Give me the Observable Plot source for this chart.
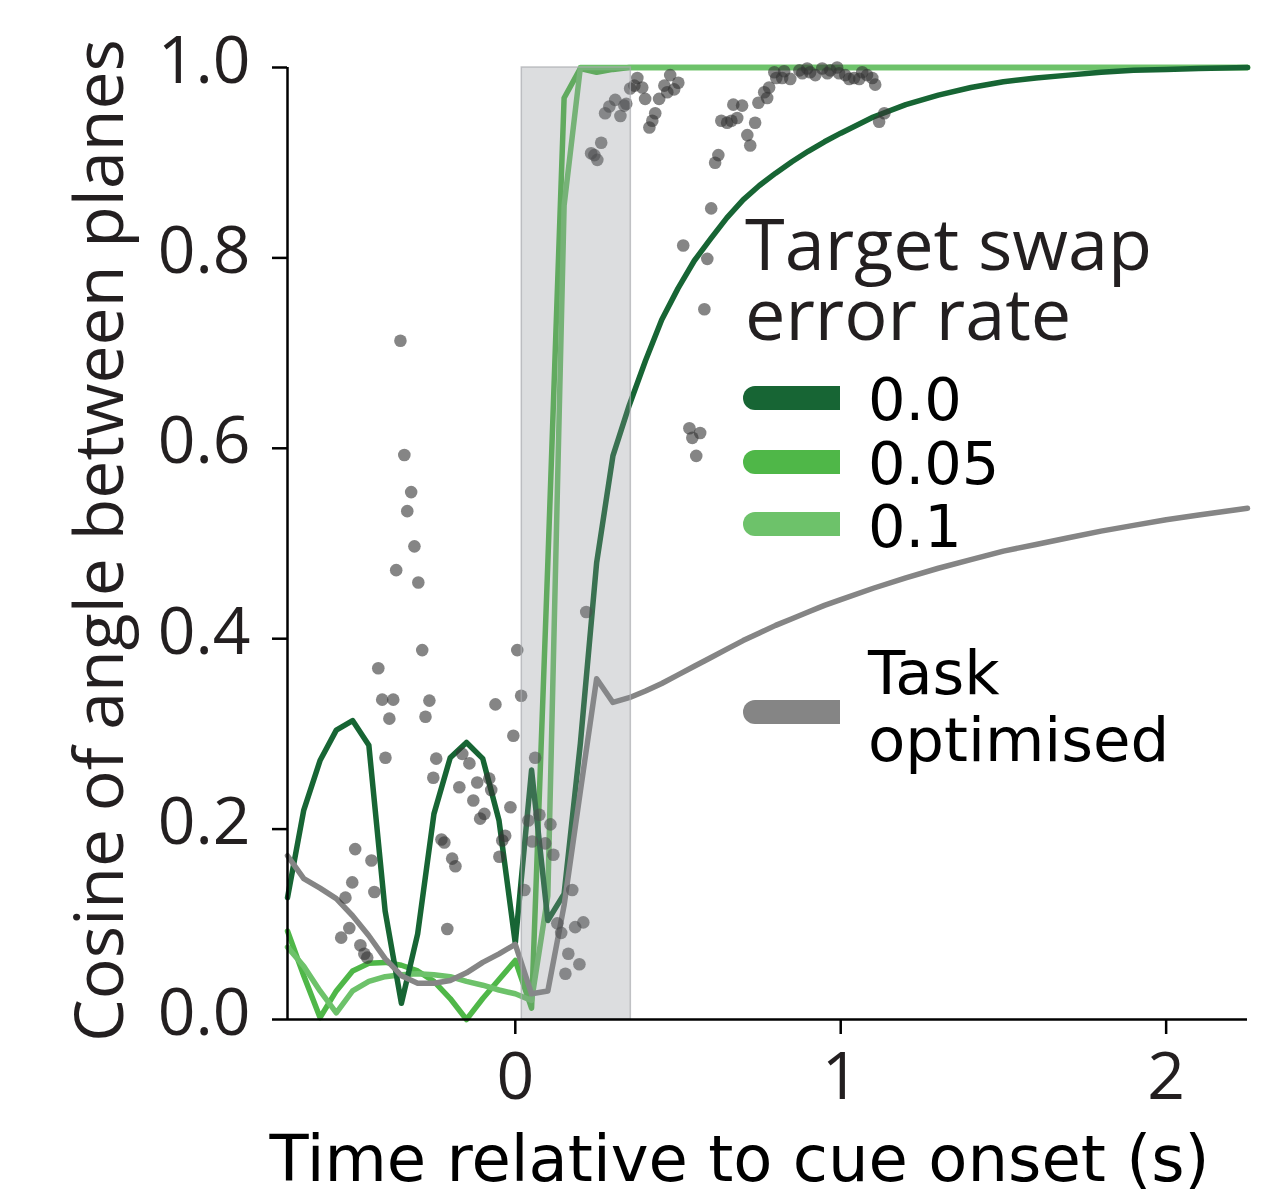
<!DOCTYPE html>
<html>
<head>
<meta charset="utf-8">
<script src="https://cdn.jsdelivr.net/npm/d3@7"></script>
<script src="https://cdn.jsdelivr.net/npm/@observablehq/plot@0.6"></script>
<style>
  html, body { margin: 0; padding: 0; background: #fff; }
  #wrap { position: relative; width: 1282px; height: 1194px; }
  #wrap svg { position: absolute; left: 0; top: 0; }
  .lg { position: absolute; white-space: nowrap; }
  .title { font-family: "Open Sans", sans-serif; font-size: 72px; line-height: 60px; color: #231f20; }
  .num { font-family: "DejaVu Sans", sans-serif; font-size: 59px; line-height: 56px; color: #000; }
  .task { font-family: "DejaVu Sans", sans-serif; font-size: 61px; line-height: 58px; color: #000; }
  .sw { position: absolute; width: 97px; height: 24px; border-radius: 12px 0 0 12px; }
</style>
</head>
<body>
<div id="wrap"></div>
<script>
// ---- Data ----
const xTicks = [0, 1, 2];
const yTicks = [0, 0.2, 0.4, 0.6, 0.8, 1.0];
const cueWindow = [{start: 0.02, end: 0.355, bottom: 0, top: 1}];

const seriesNames = ["0.0", "0.05", "0.1", "Task", "optimised"];
const seriesColors = ["#176534", "#4fb748", "#6dc26a", "#858585"];

const darkT = [-0.70,-0.65,-0.60,-0.55,-0.50,-0.45,-0.40,-0.35,-0.30,-0.25,-0.20,-0.15,-0.10,-0.05,0.00,0.05,0.10,0.15,0.20,0.25,0.30,0.35,0.40,0.45,0.50,0.55,0.60,0.65,0.70,0.75,0.80,0.85,0.90,0.95,1.00,1.10,1.20,1.30,1.40,1.50,1.60,1.70,1.80,1.90,2.00,2.10,2.25];
const darkY = [0.128,0.220,0.272,0.304,0.314,0.288,0.114,0.017,0.090,0.216,0.275,0.291,0.274,0.209,0.080,0.262,0.104,0.132,0.290,0.480,0.592,0.645,0.692,0.735,0.768,0.797,0.820,0.842,0.861,0.876,0.889,0.901,0.912,0.922,0.931,0.948,0.961,0.971,0.979,0.985,0.989,0.992,0.995,0.997,0.998,0.999,1.000];

const midT = [-0.70,-0.65,-0.60,-0.55,-0.50,-0.45,-0.40,-0.35,-0.30,-0.25,-0.20,-0.15,-0.10,-0.05,0.00,0.05,0.10,0.15,0.20,0.25,0.30,0.35,2.25];
const midY = [0.093,0.046,0.002,0.030,0.051,0.059,0.060,0.057,0.051,0.040,0.022,0.000,0.022,0.042,0.062,0.012,0.480,0.968,0.999,0.995,0.998,1.000,1.000];

const lightT = [-0.70,-0.65,-0.60,-0.55,-0.50,-0.45,-0.40,-0.35,-0.30,-0.25,-0.20,-0.15,-0.10,-0.05,0.00,0.05,0.10,0.15,0.20,0.25,0.30,0.35,2.25];
const lightY = [0.076,0.056,0.030,0.007,0.030,0.040,0.045,0.047,0.048,0.047,0.045,0.040,0.036,0.031,0.027,0.020,0.130,0.855,1.000,1.000,1.000,1.000,1.000];

const grayT = darkT;
const grayY = [0.172,0.148,0.138,0.127,0.109,0.088,0.064,0.046,0.038,0.038,0.041,0.049,0.060,0.069,0.079,0.027,0.030,0.120,0.240,0.358,0.333,0.338,0.345,0.353,0.362,0.371,0.380,0.389,0.398,0.406,0.414,0.421,0.428,0.435,0.441,0.453,0.464,0.474,0.483,0.492,0.499,0.506,0.513,0.519,0.525,0.530,0.537];

const scatterT = [-0.353,-0.341,-0.320,-0.332,-0.310,-0.366,-0.298,-0.286,-0.421,-0.409,-0.375,-0.264,-0.387,-0.276,-0.399,-0.243,-0.252,-0.163,-0.141,-0.117,-0.172,-0.129,-0.080,-0.074,-0.095,-0.108,-0.061,0.006,0.018,-0.006,-0.015,0.061,0.040,0.074,0.108,0.052,0.092,0.117,-0.031,-0.040,-0.049,-0.492,-0.442,-0.501,-0.433,-0.522,-0.510,-0.535,-0.476,-0.464,-0.455,-0.209,-0.227,-0.218,-0.194,-0.184,0.028,0.175,0.129,0.141,0.184,0.209,0.163,0.197,0.154,0.218,
  0.516,0.602,0.590,0.581,0.535,0.568,0.544,0.556,
  0.233,0.252,0.243,0.264,0.276,0.289,0.307,0.323,0.335,0.341,0.353,0.366,0.375,0.390,0.399,0.412,0.421,0.430,0.442,0.458,0.467,0.476,0.488,0.501,
  0.614,0.624,0.633,0.651,0.664,0.670,0.697,0.682,0.737,0.713,0.722,0.747,0.765,0.774,0.780,0.796,0.802,0.826,0.820,0.845,0.873,0.882,0.897,0.906,0.922,0.943,0.959,0.968,0.989,0.995,1.014,1.026,1.041,1.057,1.066,1.081,1.097,1.106,1.134,1.118];
const scatterY = [0.713,0.593,0.554,0.534,0.497,0.472,0.459,0.388,0.369,0.336,0.336,0.335,0.316,0.318,0.275,0.274,0.254,0.279,0.269,0.249,0.244,0.230,0.253,0.241,0.216,0.211,0.331,0.388,0.340,0.298,0.223,0.275,0.209,0.215,0.205,0.187,0.185,0.173,0.193,0.188,0.171,0.179,0.167,0.144,0.134,0.128,0.096,0.086,0.078,0.069,0.065,0.095,0.189,0.186,0.169,0.161,0.136,0.136,0.101,0.091,0.097,0.102,0.069,0.058,0.048,0.428,
  0.813,0.852,0.799,0.746,0.621,0.616,0.611,0.592,
  0.910,0.903,0.908,0.921,0.952,0.959,0.966,0.949,0.960,0.962,0.978,0.981,0.989,0.979,0.967,0.937,0.944,0.952,0.967,0.981,0.974,0.992,0.977,0.984,
  0.900,0.908,0.944,0.942,0.944,0.961,0.960,0.947,0.942,0.929,0.918,0.963,0.974,0.968,0.979,0.995,0.989,0.996,0.989,0.988,0.997,0.994,0.999,0.995,0.992,0.999,0.994,0.997,1.000,0.994,0.992,0.988,0.989,0.988,0.995,0.992,0.989,0.982,0.952,0.943];

const xLabel = "Time relative to cue onset (s)";
const yLabel = "Cosine of angle between planes";
const legendTitle = ["Target swap", "error rate"];

// ---- Build tables ----
const toRows = (ts, ys) => ts.map((t, i) => ({t, v: ys[i]}));
const lines = [toRows(darkT, darkY), toRows(midT, midY), toRows(lightT, lightY), toRows(grayT, grayY)];
const points = scatterT.map((t, i) => ({t, v: scatterY[i]}));

const ink = "#231f20";
const lineOpts = (i) => ({x: "t", y: "v", stroke: seriesColors[i], strokeWidth: 5.5, strokeLinejoin: "round"});

const chart = Plot.plot({
  width: 1282,
  height: 1194,
  marginLeft: 287,
  marginRight: 35,
  marginTop: 67,
  marginBottom: 175,
  style: {fontFamily: "Open Sans", fontSize: "66px", color: ink, background: "transparent"},
  x: {domain: [-0.7, 2.25], axis: null},
  y: {domain: [0, 1], axis: null},
  marks: [
    Plot.line(lines[1], lineOpts(1)),
    Plot.line(lines[2], lineOpts(2)),
    Plot.line(lines[0], lineOpts(0)),
    Plot.line(lines[3], lineOpts(3)),
    Plot.dot(points, {x: "t", y: "v", r: 6.3, fill: "#333333", fillOpacity: 0.6, stroke: "none"}),
    Plot.rect(cueWindow, {x1: "start", x2: "end", y1: "bottom", y2: "top", fill: "#8b8e95", fillOpacity: 0.3, stroke: "#a9abaf", strokeWidth: 1.5, strokeOpacity: 0.7}),
    Plot.ruleX([-0.7], {stroke: "#000", strokeWidth: 2.5}),
    Plot.ruleY([0], {stroke: "#000", strokeWidth: 2.5}),
    Plot.axisY({ticks: yTicks, tickSize: 15, strokeWidth: 2.5, stroke: "#000", text: null, label: null}),
    Plot.axisY({ticks: yTicks, tickFormat: d3.format(".1f"), tickSize: 0, tickPadding: 37, fill: ink, fontSize: 66, fontFamily: "Open Sans", dy: -6, label: null}),
    Plot.axisX({ticks: xTicks, tickFormat: d => String(d), tickSize: 15, tickPadding: 18, strokeWidth: 2.5, stroke: "#000", fill: ink, fontSize: 66, fontFamily: "Open Sans", label: null}),
    Plot.text([yLabel], {text: d => d, frameAnchor: "left", rotate: -90, dx: -165, dy: -3, lineAnchor: "bottom", textAnchor: "middle", fontSize: 68, fontFamily: "Open Sans", fill: ink}),
    Plot.text([xLabel], {text: d => d, frameAnchor: "bottom", dx: -28, dy: 161, lineAnchor: "bottom", textAnchor: "middle", fontSize: 64, fontFamily: "DejaVu Sans", fill: "#000"})
  ]
});

const wrap = document.getElementById("wrap");
wrap.appendChild(chart);

// ---- Legend (HTML overlay) ----
function add(cls, text, left, top) {
  const d = document.createElement("div");
  d.className = "lg " + cls;
  d.textContent = text;
  d.style.left = left + "px";
  d.style.top = top + "px";
  wrap.appendChild(d);
}
// title: 72px font, 60px line box -> baseline at top + 58
add("title", legendTitle[0], 745, 212);
add("title", legendTitle[1], 745, 282);
const rowCenters = [398, 462, 524, 712];
seriesColors.forEach((c, i) => {
  const s = document.createElement("div");
  s.className = "sw";
  s.style.left = "743px";
  s.style.top = (rowCenters[i] - 12) + "px";
  s.style.background = c;
  wrap.appendChild(s);
});
// num: 59px font, 56px line box -> baseline at top + ~48
add("num", seriesNames[0], 868, 372);
add("num", seriesNames[1], 868, 436);
add("num", seriesNames[2], 868, 499);
add("task", seriesNames[3], 868, 644);
add("task", seriesNames[4], 868, 711);
</script>
</body>
</html>
